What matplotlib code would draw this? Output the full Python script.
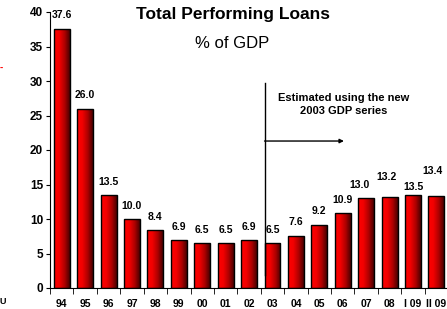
import numpy as np
import matplotlib.pyplot as plt
from matplotlib.colors import LinearSegmentedColormap
from matplotlib.patches import Rectangle

plt.rcParams['font.family'] = ['Liberation Sans', 'DejaVu Sans']

years = ['94', '95', '96', '97', '98', '99', '00', '01', '02', '03',
         '04', '05', '06', '07', '08', 'I 09', 'II 09']
loans_pct_gdp = [37.6, 26.0, 13.5, 10.0, 8.4, 6.9, 6.5, 6.5, 6.9, 6.5,
                 7.6, 9.2, 10.9, 13.0, 13.2, 13.5, 13.4]

# label nudges (points) where the original labels are staggered
label_dy = {14: 5, 15: -4, 16: 8}
label_dx = {13: -5, 14: -2, 16: -3}

fig = plt.figure(figsize=(4.47, 3.09), dpi=100)
ax = fig.add_axes([50 / 447, 21 / 309, 397 / 447, 276 / 309])

x = np.arange(len(years))
width = 0.68
cmap = LinearSegmentedColormap.from_list(
    'redgrad', ['#ff0000', '#f20000', '#b00000', '#4a0000'])
grad = np.linspace(0, 1, 64).reshape(1, -1)

for i, v in enumerate(loans_pct_gdp):
    rect = Rectangle((x[i] - width / 2, 0), width, v, facecolor='none',
                     edgecolor='black', linewidth=1.0, zorder=3)
    ax.add_patch(rect)
    im = ax.imshow(grad, cmap=cmap, aspect='auto', zorder=2,
                   extent=(x[i] - width / 2, x[i] + width / 2, 0, v))
    im.set_clip_path(rect)
    ax.annotate(f'{v:.1f}', (x[i], v),
                xytext=(label_dx.get(i, 0), 9.5 + label_dy.get(i, 0)),
                textcoords='offset points', ha='center', va='center',
                fontsize=7.5, fontweight='bold')

ax.set_xlim(-0.47, 16.45)
ax.set_ylim(0, 40)
ax.set_yticks(range(0, 41, 5))
ax.set_yticklabels([str(t) for t in range(0, 41, 5)], fontsize=8.5,
                   fontweight='bold')
ax.set_xticks(x)
ax.set_xticklabels(years, fontsize=7.5, fontweight='bold')
ax.tick_params(axis='x', length=0, pad=8)
ax.set_xticks(np.arange(-0.5, 16.5, 1), minor=True)
ax.tick_params(axis='x', which='minor', length=4, direction='out')
ax.tick_params(axis='y', length=3, direction='out', pad=2)
for s in ['top', 'right']:
    ax.spines[s].set_visible(False)

# break marking the new GDP series
ax.plot([8.66, 8.66], [1.9, 29.7], color='black', linewidth=1.0, zorder=4)
ax.annotate('', xy=(12.05, 21.3), xytext=(8.66, 21.3),
            arrowprops=dict(arrowstyle='-|>', color='black', lw=1.0,
                            mutation_scale=6, shrinkA=0, shrinkB=0))
ax.text(12.05, 26.6, 'Estimated using the new\n2003 GDP series',
        ha='center', va='center', fontsize=8, fontweight='bold',
        linespacing=1.3)

fig.text(233 / 447, 1 - 15 / 309, 'Total Performing Loans', ha='center',
         va='center', fontsize=12.5, fontweight='bold')
fig.text(232 / 447, 1 - 43 / 309, '% of GDP', ha='center', va='center',
         fontsize=12)

# fragments of the neighbouring slide at the left edge
fig.text(0.0, 1 - 68 / 309, '-', color='red', fontsize=7, fontweight='bold',
         va='center')
fig.text(0.0, 1 - 301 / 309, 'U', fontsize=6.5, fontweight='bold',
         va='center')

fig.savefig('out.png', dpi=100, facecolor='white')
